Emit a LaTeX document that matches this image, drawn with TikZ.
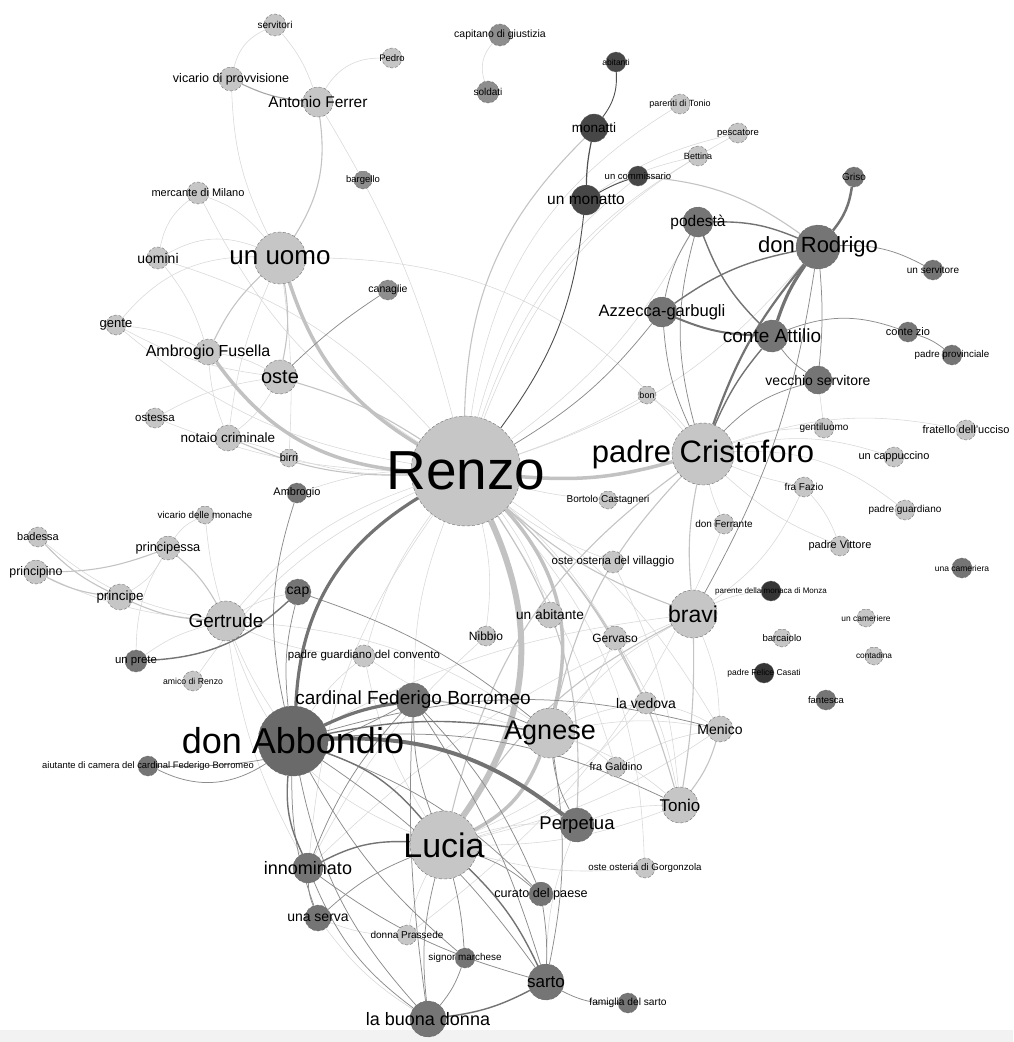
\documentclass[tikz,border=0pt]{standalone}
\usepackage{fontspec}
\setmainfont{Liberation Sans}
\pgfdeclarelayer{bglayer}
\pgfdeclarelayer{edgelayer}
\pgfdeclarelayer{lablayer}
\pgfsetlayers{bglayer,edgelayer,main,lablayer}
\definecolor{nlc}{HTML}{C6C6C6}
\definecolor{nmc}{HTML}{8E8E8E}
\definecolor{ndc}{HTML}{757575}
\definecolor{nac}{HTML}{6A6A6A}
\definecolor{nkc}{HTML}{474747}
\definecolor{nxc}{HTML}{353535}
\definecolor{ec1}{HTML}{D8D8D8}
\definecolor{ec2}{HTML}{C4C4C4}
\definecolor{ec3}{HTML}{C2C2C2}
\definecolor{dc1}{HTML}{8C8C8C}
\definecolor{dc2}{HTML}{737373}
\definecolor{kc1}{HTML}{505050}
\tikzset{
  nd/.style={circle, draw=black!60, densely dashed, line width=0.35pt, inner sep=0pt},
  nl/.style={nd, fill=nlc},
  nm/.style={nd, fill=nmc},
  nd2/.style={nd, fill=ndc},
  nd1/.style={nd, fill=nac},
  nk/.style={nd, fill=nkc},
  nx/.style={nd, fill=nxc},
  lab/.style={inner sep=0pt, text=black},
  e1/.style={draw=ec1, line width=0.55pt},
  e2/.style={draw=ec2, line width=1.1pt},
  e3/.style={draw=ec3, line width=3.5pt},
  e4/.style={draw=ec3, line width=6pt},
  d1/.style={draw=dc1, line width=0.75pt},
  d2/.style={draw=dc2, line width=1.4pt},
  d3/.style={draw=dc2, line width=3.2pt},
  k1/.style={draw=kc1, line width=0.9pt}
}
\newcommand{\mkn}[7]{%
  \node[#5, minimum size=#4*2pt] (#1) at (#2,#3) {};
  \begin{pgfonlayer}{lablayer}\node[lab, font=\fontsize{#6}{#6}\selectfont] (#1t) at (#2,#3) {#7};\end{pgfonlayer}}
\begin{document}
\begin{tikzpicture}[x=1pt,y=-1pt]
\useasboundingbox (0,0) rectangle (1013,1042);
\begin{pgfonlayer}{bglayer}
\fill[white] (0,0) rectangle (1013,1042);
\fill[black!5] (0,1030) rectangle (1013,1042);
\end{pgfonlayer}
% nodes
\mkn{servitori}{275}{25}{11}{nl}{10}{servitori}
\mkn{vicprov}{231}{79}{12}{nl}{12.5}{vicario di provvisione}
\mkn{ferrer}{318}{102}{15}{nl}{15.5}{Antonio Ferrer}
\mkn{pedro}{392}{58}{10}{nl}{9.5}{Pedro}
\mkn{capitano}{500}{35}{11}{nm}{10.5}{capitano di giustizia}
\mkn{soldati}{488}{92}{11}{nm}{10}{soldati}
\mkn{abitanti}{616}{62}{10}{nk}{8.5}{abitanti}
\mkn{monatti}{594}{128}{14}{nk}{13.5}{monatti}
\mkn{parenti}{680}{104}{10}{nl}{9}{parenti di Tonio}
\mkn{pescatore}{738}{133}{10}{nl}{9.5}{pescatore}
\mkn{bettina}{698}{156}{10}{nl}{9}{Bettina}
\mkn{commissario}{638}{176}{10}{nk}{9.5}{un commissario}
\mkn{unmonatto}{586}{200}{15}{nk}{15.5}{un monatto}
\mkn{bargello}{363}{180}{9}{nm}{9.5}{bargello}
\mkn{mercante}{198}{193}{11}{nl}{11}{mercante di Milano}
\mkn{griso}{854}{177}{10}{nd2}{10}{Griso}
\mkn{podesta}{698}{222}{15}{nd2}{15.5}{podestà}
\mkn{rodrigo}{818}{247}{22}{nd2}{22}{don Rodrigo}
\mkn{servitore}{933}{270}{10}{nd2}{10}{un servitore}
\mkn{unuomo}{280}{258}{26}{nl}{26}{un uomo}
\mkn{uomini}{158}{258}{11}{nl}{14}{uomini}
\mkn{canaglie}{388}{290}{10}{nm}{10.5}{canaglie}
\mkn{azzecca}{662}{312}{15}{nd2}{16.5}{Azzecca-garbugli}
\mkn{attilio}{772}{336}{16}{nd2}{19}{conte Attilio}
\mkn{contezio}{908}{332}{10}{nd2}{11}{conte zio}
\mkn{provinciale}{952}{355}{10}{nd2}{9.8}{padre provinciale}
\mkn{gente}{116}{325}{10}{nl}{13}{gente}
\mkn{fusella}{208}{352}{13}{nl}{16}{Ambrogio Fusella}
\mkn{oste}{280}{377}{17}{nl}{20}{oste}
\mkn{vecchio}{818}{380}{14}{nd2}{14}{vecchio servitore}
\mkn{bon}{647}{395}{9}{nl}{9}{bon}
\mkn{ostessa}{155}{418}{10}{nl}{11.5}{ostessa}
\mkn{notaio}{228}{438}{13}{nl}{13.5}{notaio criminale}
\mkn{gentiluomo}{824}{428}{10}{nl}{10}{gentiluomo}
\mkn{fratello}{966}{430}{10}{nl}{11}{fratello dell'ucciso}
\mkn{renzo}{466}{471}{55}{nl}{55}{Renzo}
\mkn{cristoforo}{703}{454}{31}{nl}{31}{padre Cristoforo}
\mkn{cappuccino}{894}{457}{10}{nl}{11}{un cappuccino}
\mkn{birri}{289}{458}{9}{nl}{11}{birri}
\mkn{ambrogio}{297}{493}{10}{nd2}{11}{Ambrogio}
\mkn{bortolo}{608}{500}{9}{nl}{10}{Bortolo Castagneri}
\mkn{fazio}{804}{487}{10}{nl}{10}{fra Fazio}
\mkn{vicmonache}{205}{515}{9}{nl}{9.8}{vicario delle monache}
\mkn{guardiano}{905}{510}{10}{nl}{10}{padre guardiano}
\mkn{ferrante}{724}{524}{10}{nl}{10}{don Ferrante}
\mkn{badessa}{38}{537}{10}{nl}{11}{badessa}
\mkn{principessa}{168}{548}{12}{nl}{12.8}{principessa}
\mkn{principino}{36}{572}{12}{nl}{12.4}{principino}
\mkn{vittore}{840}{546}{10}{nl}{11}{padre Vittore}
\mkn{ostevill}{613}{562}{11}{nl}{11.5}{oste osteria del villaggio}
\mkn{cameriera}{962}{568}{10}{nd2}{8.5}{una cameriera}
\mkn{parmonaca}{771}{591}{10}{nx}{8}{parente della monaca di Monza}
\mkn{cap}{298}{592}{13}{nd2}{14}{cap}
\mkn{principe}{120}{597}{13}{nl}{13.4}{principe}
\mkn{abitante}{550}{615}{13}{nl}{13.7}{un abitante}
\mkn{bravi}{693}{614}{24}{nl}{23}{bravi}
\mkn{cameriere}{866}{618}{9}{nl}{8.4}{un cameriere}
\mkn{gertrude}{226}{621}{20}{nl}{19}{Gertrude}
\mkn{nibbio}{486}{636}{10}{nl}{12}{Nibbio}
\mkn{barcaiolo}{782}{638}{9}{nl}{9.6}{barcaiolo}
\mkn{gervaso}{615}{638}{12}{nl}{12}{Gervaso}
\mkn{contadina}{874}{656}{9}{nl}{8.3}{contadina}
\mkn{pgconvento}{364}{656}{11}{nl}{11.5}{padre guardiano del convento}
\mkn{prete}{136}{661}{11}{nd2}{11.4}{un prete}
\mkn{casati}{764}{673}{10}{nx}{8.5}{padre Felice Casati}
\mkn{amico}{193}{681}{10}{nl}{8.7}{amico di Renzo}
\mkn{fantesca}{826}{700}{10}{nd2}{9.5}{fantesca}
\mkn{cardinal}{413}{700}{17}{nd2}{19}{cardinal Federigo Borromeo}
\mkn{vedova}{646}{703}{11}{nl}{14}{la vedova}
\mkn{menico}{720}{729}{13}{nl}{14}{Menico}
\mkn{abbondio}{293}{741}{35}{nd1}{36}{don Abbondio}
\mkn{agnese}{550}{733}{25}{nl}{27}{Agnese}
\mkn{aiutante}{148}{766}{10}{nd2}{9.4}{aiutante di camera del cardinal Federigo Borromeo}
\mkn{galdino}{616}{767}{10}{nl}{10.8}{fra Galdino}
\mkn{tonio}{680}{805}{18}{nl}{17}{Tonio}
\mkn{perpetua}{577}{825}{17}{nd2}{18.5}{Perpetua}
\mkn{lucia}{444}{845}{34}{nl}{34}{Lucia}
\mkn{innominato}{308}{868}{15}{nd2}{18}{innominato}
\mkn{ostegorg}{645}{868}{10}{nl}{9.7}{oste osteria di Gorgonzola}
\mkn{curato}{541}{894}{12}{nd2}{12.6}{curato del paese}
\mkn{serva}{318}{918}{13}{nd2}{14}{una serva}
\mkn{prassede}{407}{935}{10}{nl}{10}{donna Prassede}
\mkn{marchese}{465}{958}{10}{nd2}{9.9}{signor marchese}
\mkn{sarto}{546}{982}{18}{nd2}{17}{sarto}
\mkn{famiglia}{628}{1003}{10}{nd2}{10.2}{famiglia del sarto}
\mkn{buonadonna}{428}{1019}{18}{nd2}{18}{la buona donna}
% edges
\begin{pgfonlayer}{edgelayer}
% light, thin
\draw[e1] (commissario) to[bend right=18] (renzo);
\draw[e1] (parenti) to[bend right=25] (renzo);
\draw[e1] (pescatore) to[bend right=20] (renzo);
\draw[e1] (bettina) to[bend right=20] (renzo);
\draw[e1] (renzo) to[bend left=12] (menico);
\draw[e1] (renzo) to[bend left=8] (gervaso);
\draw[e1] (renzo) to[bend right=8] (ostevill);
\draw[e1] (renzo) to[bend left=10] (abitante);
\draw[e1] (renzo) to[bend right=5] (bortolo);
\draw[e1] (renzo) to[bend left=10] (nibbio);
\draw[e1] (renzo) to[bend right=15] (gertrude);
\draw[e1] (renzo) to[bend right=10] (cardinal);
\draw[e1] (renzo) to[bend left=10] (ostessa);
\draw[e1] (renzo) to[bend left=8] (birri);
\draw[e1] (renzo) to[bend right=8] (ambrogio);
\draw[e1] (gente) to[bend right=15] (renzo);
\draw[e1] (uomini) to[bend left=15] (renzo);
\draw[e1] (mercante) to[bend right=15] (renzo);
\draw[e1] (renzo) to[bend right=5] (bon);
\draw[e1] (renzo) to[bend left=20] (ostegorg);
\draw[e1] (renzo) to[bend left=8] (galdino);
\draw[e1] (renzo) to[bend right=10] (pgconvento);
\draw[e1] (amico) to[bend left=15] (renzo);
\draw[e1] (renzo) to[bend right=12] (podesta);
\draw[e1] (renzo) to[bend right=15] (rodrigo);
\draw[e1] (renzo) to[bend right=8] (ferrer);
\draw[e1] (renzo) to[bend right=15] (innominato);
\draw[e1] (uomini) to[bend left=25] (unuomo);
\draw[e1] (mercante) to[bend left=15] (unuomo);
\draw[e1] (gente) to[bend left=25] (unuomo);
\draw[e1] (vicprov) to[bend right=12] (unuomo);
\draw[e1] (unuomo) to[bend right=8] (notaio);
\draw[e1] (unuomo) to[bend left=25] (cristoforo);
\draw[e1] (uomini) to[bend left=10] (fusella);
\draw[e1] (gente) to[bend left=10] (fusella);
\draw[e1] (mercante) to[bend right=20] (uomini);
\draw[e1] (servitori) to[bend right=25] (vicprov);
\draw[e1] (servitori) to[bend left=10] (ferrer);
\draw[e1] (pedro) to[bend right=30] (ferrer);
\draw[e1] (capitano) to[bend right=30] (soldati);
\draw[e1] (ostessa) to[bend left=10] (oste);
\draw[e1] (notaio) to[bend right=10] (oste);
\draw[e1] (fusella) to[bend left=10] (oste);
\draw[e1] (notaio) to[bend left=8] (fusella);
\draw[e1] (birri) to[bend right=5] (notaio);
\draw[e1] (gente) to[bend right=10] (oste);
\draw[e1] (unuomo) to[bend left=5] (birri);
\draw[e1] (pescatore) to[bend right=10] (unmonatto);
\draw[e1] (bettina) to[bend right=8] (unmonatto);
\draw[e1] (cristoforo) to[bend left=10] (gentiluomo);
\draw[e1] (cristoforo) to[bend right=5] (fazio);
\draw[e1] (cristoforo) to[bend right=10] (vittore);
\draw[e1] (cristoforo) to[bend left=20] (guardiano);
\draw[e1] (cristoforo) to[bend left=15] (cappuccino);
\draw[e1] (cristoforo) to[bend left=15] (fratello);
\draw[e1] (gentiluomo) to (vecchio);
\draw[e1] (fazio) to[bend left=10] (vittore);
\draw[e1] (fazio) to[bend left=15] (bravi);
\draw[e1] (cristoforo) to[bend right=5] (ferrante);
\draw[e1] (bon) to[bend left=10] (cristoforo);
\draw[e1] (ferrante) to[bend left=15] (prassede);
\draw[e1] (bravi) to[bend left=10] (menico);
\draw[e1] (bravi) to[bend right=10] (agnese);
\draw[e1] (bravi) to[bend right=10] (abbondio);
\draw[e1] (bravi) to[bend left=10] (parmonaca);
\draw[e1] (bravi) to[bend right=10] (innominato);
\draw[e1] (lucia) to[bend right=8] (prassede);
\draw[e1] (lucia) to[bend left=10] (perpetua);
\draw[e1] (lucia) to[bend left=25] (gertrude);
\draw[e1] (lucia) to[bend right=10] (ostegorg);
\draw[e1] (lucia) to[bend right=10] (menico);
\draw[e1] (lucia) to[bend right=10] (tonio);
\draw[e1] (lucia) to[bend right=12] (vedova);
\draw[e1] (lucia) to[bend right=10] (galdino);
\draw[e1] (abbondio) to[bend left=8] (pgconvento);
\draw[e1] (abbondio) to[bend left=5] (gertrude);
\draw[e1] (agnese) to[bend left=8] (vedova);
\draw[e1] (agnese) to[bend left=10] (tonio);
\draw[e1] (agnese) to[bend left=10] (menico);
\draw[e1] (agnese) to[bend left=10] (galdino);
\draw[e1] (agnese) to[bend right=10] (gervaso);
\draw[e1] (perpetua) to[bend left=10] (tonio);
\draw[e1] (perpetua) to[bend right=10] (sarto);
\draw[e1] (innominato) to[bend left=10] (gertrude);
\draw[e1] (serva) to[bend right=10] (buonadonna);
\draw[e1] (prassede) to[bend left=10] (serva);
\draw[e1] (principe) to[bend right=15] (principessa);
\draw[e1] (principino) to[bend right=10] (gertrude);
\draw[e1] (badessa) to[bend right=15] (gertrude);
\draw[e1] (principessa) to[bend left=15] (vicmonache);
\draw[e1] (vicmonache) to[bend right=5] (gertrude);
\draw[e1] (gertrude) to[bend right=10] (prete);
\draw[e1] (gertrude) to[bend left=10] (cap);
\draw[e1] (gertrude) to[bend right=10] (pgconvento);
\draw[e1] (gertrude) to[bend left=15] (agnese);
\draw[e1] (prete) to[bend left=15] (principessa);
\draw[e1] (pgconvento) to[bend right=10] (agnese);
\draw[e1] (pgconvento) to[bend right=10] (lucia);
\draw[e1] (nibbio) to[bend right=10] (innominato);
\draw[e1] (gervaso) to[bend left=10] (tonio);
\draw[e1] (ostevill) to[bend left=10] (tonio);
\draw[e1] (vedova) to[bend left=10] (menico);
\draw[e1] (galdino) to[bend left=10] (menico);
% light, medium
\draw[e2] (oste) to[bend left=8] (renzo);
\draw[e2] (monatti) to[bend right=22] (renzo);
\draw[e2] (renzo) to[bend right=10] (bravi);
\draw[e2] (renzo) to[bend left=15] (tonio);
\draw[e2] (renzo) to[bend left=10] (vedova);
\draw[e2] (renzo) to[bend left=18] (perpetua);
\draw[e2] (renzo) to[bend left=12] (notaio);
\draw[e2] (unuomo) to[bend right=20] (ferrer);
\draw[e2] (unuomo) to[bend right=10] (fusella);
\draw[e2] (unuomo) to[bend left=10] (oste);
\draw[e2, draw=black!35] (vicprov) to[bend right=10] (ferrer);
\draw[e2] (commissario) to[bend left=15] (rodrigo);
\draw[e2] (bravi) to[bend left=8] (cristoforo);
\draw[e2] (cristoforo) to[bend right=15] (agnese);
\draw[e2] (cristoforo) to[bend right=20] (lucia);
\draw[e2] (bravi) to[bend left=5] (tonio);
\draw[e2] (bravi) to[bend right=15] (lucia);
\draw[e2] (gertrude) to[bend left=10] (principe);
\draw[e2] (gertrude) to[bend right=10] (principessa);
\draw[e2] (principe) to[bend left=10] (principino);
\draw[e2] (principino) to[bend right=10] (principessa);
\draw[e2] (badessa) to[bend right=10] (principe);
\draw[e2] (menico) to[bend left=10] (tonio);
% light, thick
\draw[e3] (unuomo) to[bend right=20] (renzo);
\draw[e3] (fusella) to[bend right=25] (renzo);
\draw[e3] (renzo) to[bend right=10] (cristoforo);
\draw[e3] (renzo) to[bend left=28] (agnese);
\draw[e3] (agnese) to[bend left=20] (lucia);
\draw[e4] (renzo) to[bend left=30] (lucia);
% dark
\draw[d1] (renzo) to[bend right=10] (azzecca);
\draw[d1] (canaglie) to[bend right=5] (oste);
\draw[d1] (podesta) to[bend right=10] (azzecca);
\draw[d1] (podesta) to[bend right=15] (cristoforo);
\draw[d1] (azzecca) to[bend right=10] (cristoforo);
\draw[d1] (rodrigo) to[bend left=15] (servitore);
\draw[d1] (rodrigo) to[bend left=5] (vecchio);
\draw[d1] (attilio) to[bend right=10] (vecchio);
\draw[d1] (attilio) to[bend left=20] (contezio);
\draw[d1] (contezio) to[bend left=10] (provinciale);
\draw[d1] (vecchio) to[bend right=15] (cristoforo);
\draw[d1] (bravi) to[bend right=10] (rodrigo);
\draw[d1] (lucia) to[bend right=10] (buonadonna);
\draw[d1] (lucia) to[bend left=10] (curato);
\draw[d1] (lucia) to[bend right=10] (serva);
\draw[d1] (lucia) to[bend left=5] (marchese);
\draw[d1] (lucia) to[bend left=10] (cardinal);
\draw[d1] (abbondio) to[bend right=10] (serva);
\draw[d1] (abbondio) to[bend right=15] (buonadonna);
\draw[d1] (abbondio) to[bend left=10] (sarto);
\draw[d1] (abbondio) to[bend left=12] (curato);
\draw[d1] (abbondio) to[bend left=30] (aiutante);
\draw[d1] (abbondio) to[bend left=15] (tonio);
\draw[d1] (abbondio) to[bend left=15] (menico);
\draw[d1] (abbondio) to[bend left=10] (cap);
\draw[d1] (abbondio) to[bend right=10] (marchese);
\draw[d1] (ambrogio) to[bend right=15] (abbondio);
\draw[d1] (cardinal) to[bend right=10] (innominato);
\draw[d1] (cardinal) to[bend left=10] (agnese);
\draw[d1] (cardinal) to[bend right=5] (buonadonna);
\draw[d1] (cardinal) to[bend left=8] (sarto);
\draw[d1] (aiutante) to[bend right=15] (cardinal);
\draw[d1] (cardinal) to[bend left=10] (curato);
\draw[d1] (agnese) to[bend right=10] (perpetua);
\draw[d1] (agnese) to[bend left=10] (sarto);
\draw[d1] (sarto) to[bend right=5] (curato);
\draw[d1] (sarto) to[bend right=15] (famiglia);
\draw[d1] (innominato) to[bend right=10] (sarto);
\draw[d1] (innominato) to[bend right=10] (serva);
\draw[d1] (innominato) to[bend right=15] (buonadonna);
\draw[d1] (marchese) to[bend left=10] (buonadonna);
\draw[d1] (cap) to[bend left=10] (agnese);
\draw[d2] (podesta) to[bend left=12] (rodrigo);
\draw[d2] (podesta) to[bend right=12] (attilio);
\draw[d2] (azzecca) to[bend left=12] (rodrigo);
\draw[d2, line width=2pt] (azzecca) to[bend right=10] (attilio);
\draw[d2, line width=2.2pt] (rodrigo) to[bend right=10] (cristoforo);
\draw[d2] (attilio) to[bend right=8] (cristoforo);
\draw[d2] (lucia) to[bend right=15] (innominato);
\draw[d2] (lucia) to[bend left=10] (sarto);
\draw[d2] (lucia) to[bend right=15] (abbondio);
\draw[d2] (abbondio) to[bend right=15] (innominato);
\draw[d2] (abbondio) to[bend left=10] (agnese);
\draw[d2] (sarto) to[bend left=10] (buonadonna);
\draw[d2] (prete) to[bend right=20] (cap);
\draw[d3] (renzo) to[bend right=28] (abbondio);
\draw[d3] (rodrigo) to[bend right=8] (attilio);
\draw[d3, line width=2.5pt] (rodrigo) to[bend right=15] (griso);
\draw[d3, line width=4pt] (abbondio) to[bend left=20] (perpetua);
\draw[d3] (abbondio) to[bend left=8] (cardinal);
% monatti
\draw[k1] (abitanti) to[bend left=20] (monatti);
\draw[k1, line width=1.2pt] (monatti) to[bend right=5] (unmonatto);
\draw[k1] (commissario) to[bend right=5] (unmonatto);
\draw[k1] (unmonatto) to[bend left=15] (renzo);
\end{pgfonlayer}
\end{tikzpicture}
\end{document}
